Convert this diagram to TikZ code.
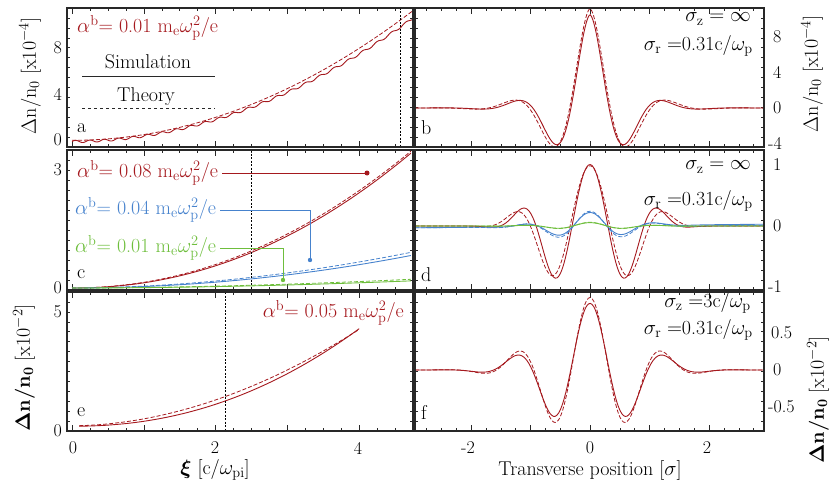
\documentclass[tikz,border=0pt]{standalone}
\usepackage{amsmath}
\definecolor{dred}{RGB}{165,25,30}
\definecolor{mblue}{RGB}{70,130,205}
\definecolor{mgreen}{RGB}{110,190,60}
\definecolor{frame}{RGB}{40,40,40}
\tikzset{
  fr/.style={draw=frame,line width=1.3pt},
  sim/.style={line width=0.9pt,smooth},
  theo/.style={line width=0.8pt,dashed,dash pattern=on 4pt off 2pt,smooth},
  vdot/.style={line width=0.9pt,dash pattern=on 2pt off 1.5pt},
  lbl/.style={font=\fontsize{20}{24}\selectfont,inner sep=1pt},
  tk/.style={font=\fontsize{18}{21}\selectfont,inner sep=1pt},
  tkk/.style={line width=0.5pt,draw=frame}
}
\begin{document}
\begin{tikzpicture}[x=1pt,y=-1pt]
\useasboundingbox (0,0) rectangle (830,495);
% ---------- ticks ----------
\foreach \yt/\yb in {8/147,150/290,292/431}{
  \foreach \i in {0,...,18}{
    \pgfmathsetmacro\xx{72+71.8*\i/4}
    \pgfmathsetmacro\ll{ifthenelse(mod(\i,4)==0,6,3)}
    \draw[tkk] (\xx,\yb) -- ++(0,-\ll);
    \draw[tkk] (\xx,\yt) -- ++(0,\ll);
  }
  \foreach \i in {-11,...,11}{
    \pgfmathsetmacro\xx{590+59.5*\i/4}
    \pgfmathsetmacro\ll{ifthenelse(mod(\i,4)==0,6,3)}
    \draw[tkk] (\xx,\yb) -- ++(0,-\ll);
    \draw[tkk] (\xx,\yt) -- ++(0,\ll);
  }
  \foreach \i in {0,...,13}{
    \pgfmathsetmacro\yy{\yt+\i*(\yb-\yt)/14}
    \draw[tkk] (67,\yy) -- ++(3,0);
    \draw[tkk] (413,\yy) -- ++(-3,0);
    \draw[tkk] (415,\yy) -- ++(3,0);
    \draw[tkk] (764,\yy) -- ++(-3,0);
  }
}
% ---------- panel a ----------
\draw[dred,theo,domain=0:4.75,samples=80] plot ({72+71.8*\x},{141.5-11.7*(0.1+10.4*(\x/4.6)^2)});
\draw[dred,sim,domain=0:4.75,samples=240] plot ({72+71.8*\x},{141.5-11.7*(9.9*(\x/4.6)^2+0.1*sin(\x*1800))});
\draw[vdot] (400,8) -- (400,147);
\node[lbl,dred,anchor=west] (ta) at (76,28) {$\alpha^{\mathrm{b}}$= 0.01 m$_{\mathrm{e}}\omega_{\mathrm{p}}^2$/e};
\node[lbl] (sim) at (148,62) {Simulation};
\coordinate (s1) at (82,76); \coordinate (s2) at (215,76);
\draw[line width=0.6pt,frame] (s1) -- (s2);
\node[lbl] (th) at (146,97) {Theory};
\coordinate (t1) at (82,108); \coordinate (t2) at (215,108);
\draw[line width=0.6pt,frame,dashed] (t1) -- (t2);
\node[lbl,anchor=west] (la) at (76,128) {a};
% ---------- panel c ----------
\draw[dred,theo,domain=0:4.72,samples=60] plot ({72+71.8*\x},{288-39.3*(3.45*(\x/4.7)^2.05)});
\draw[dred,sim,domain=0:4.72,samples=60] plot ({72+71.8*\x},{288-39.3*(3.4*(\x/4.7)^2.1)});
\draw[mblue,theo,domain=0:4.72,samples=40] plot ({72+71.8*\x},{288-39.3*(0.9*(\x/4.7)^1.9)});
\draw[mblue,sim,domain=0:4.72,samples=40] plot ({72+71.8*\x},{288-39.3*(0.82*(\x/4.7)^2)});
\draw[mgreen,theo,domain=0:4.72,samples=30] plot ({72+71.8*\x},{288-39.3*(0.22*(\x/4.7)^1.8)});
\draw[mgreen,sim,domain=0:4.72,samples=30] plot ({72+71.8*\x},{288-39.3*(0.18*(\x/4.7)^1.9)});
\draw[vdot] (251,150) -- (251,290);
\node[lbl,dred,anchor=west] (tc1) at (76,173) {$\alpha^{\mathrm{b}}$= 0.08 m$_{\mathrm{e}}\omega_{\mathrm{p}}^2$/e};
\node[lbl,mblue,anchor=west] (tc2) at (74,210) {$\alpha^{\mathrm{b}}$= 0.04 m$_{\mathrm{e}}\omega_{\mathrm{p}}^2$/e};
\node[lbl,mgreen,anchor=west] (tc3) at (74,248) {$\alpha^{\mathrm{b}}$= 0.01 m$_{\mathrm{e}}\omega_{\mathrm{p}}^2$/e};
\coordinate (d1) at (367,173);
\coordinate (d2) at (310,260);
\coordinate (d3) at (283,280);
\draw[dred,line width=0.6pt] (tc1.east) ++(3,0) -- (d1);
\fill[dred] (d1) circle (2.5);
\draw[mblue,line width=0.6pt] (tc2.east) ++(3,0) -| (d2);
\fill[mblue] (d2) circle (2.2);
\draw[mgreen,line width=0.6pt] (tc3.east) ++(3,0) -| (d3);
\fill[mgreen] (d3) circle (2.2);
\node[lbl,anchor=west] (lc) at (76,274) {c};
% ---------- panel e ----------
\draw[dred,theo,domain=0.1:4,samples=50] plot ({72+71.8*\x},{431-23.8*(0.22+4.05*(\x/4)^1.9)});
\draw[dred,sim,domain=0.1:4,samples=50] plot ({72+71.8*\x},{431-23.8*(0.2+4.1*(\x/4)^2.15)});
\draw[vdot] (225,292) -- (225,431);
\node[lbl,dred,anchor=east] (te) at (405,313) {$\alpha^{\mathrm{b}}$= 0.05 m$_{\mathrm{e}}\omega_{\mathrm{p}}^2$/e};
\node[lbl,anchor=west] (le) at (76,412) {e};
% ---------- panel b ----------
\draw[dred,theo,domain=-2.94:2.92,samples=200] plot ({590+59.5*\x},{108-8.8*(11.3*cos(4.6*\x r)*exp(-1.75*pow(abs(\x)+0.0001,1.38)))});
\draw[dred,sim,domain=-2.94:2.92,samples=200] plot ({590+59.5*\x},{108-8.8*(10.6*cos(4.9*\x r)*exp(-1.89*pow(abs(\x)+0.0001,1.38)))});
\node[lbl,anchor=east] (bz) at (752,19) {$\sigma_{\mathrm{z}}=\infty$};
\node[lbl,anchor=east] (br) at (754,46) {$\sigma_{\mathrm{r}}=$0.31c/$\omega_{\mathrm{p}}$};
\node[lbl,anchor=west] (lb) at (420,128) {b};
% ---------- panel d ----------
\draw[dred,theo,domain=-2.94:2.92,samples=200] plot ({590+59.5*\x},{226-61.5*(0.98*cos(4.7*\x r)*exp(-0.7*pow(abs(\x)+0.0001,3)))});
\draw[dred,sim,domain=-2.94:2.92,samples=200] plot ({590+59.5*\x},{226-61.5*(1.0*cos(5.2*\x r)*exp(-0.8*pow(abs(\x)+0.0001,3)))});
\draw[mblue,theo,domain=-2.94:2.92,samples=150] plot ({590+59.5*\x},{226-61.5*(0.25*cos(5.5*\x r)*exp(-1.3*\x*\x)+0.02*\x/3-0.01)});
\draw[mblue,sim,domain=-2.94:2.92,samples=150] plot ({590+59.5*\x},{226-61.5*(0.22*cos(5.5*\x r)*exp(-1.4*\x*\x)+0.03*\x/3)});
\draw[mgreen,theo,domain=-2.94:2.92,samples=100] plot ({590+59.5*\x},{226-61.5*(0.06*cos(5.5*\x r)*exp(-1.3*\x*\x))});
\draw[mgreen,sim,domain=-2.94:2.92,samples=100] plot ({590+59.5*\x},{226-61.5*(0.055*cos(5.5*\x r)*exp(-1.3*\x*\x))});
\node[lbl,anchor=east] (dz) at (752,167) {$\sigma_{\mathrm{z}}=\infty$};
\node[lbl,anchor=east] (dr) at (754,201) {$\sigma_{\mathrm{r}}=$0.31c/$\omega_{\mathrm{p}}$};
\node[lbl,anchor=west] (ld) at (420,275) {d};
% ---------- panel f ----------
\draw[dred,theo,domain=-2.94:2.92,samples=200] plot ({590+59.5*\x},{370-74*(0.98*cos(5.0*\x r)*exp(-0.9*pow(abs(\x)+0.0001,2.05)))});
\draw[dred,sim,domain=-2.94:2.92,samples=200] plot ({590+59.5*\x},{370-74*(0.9*cos(4.85*\x r)*exp(-0.95*pow(abs(\x)+0.0001,2.05)))});
\node[lbl,anchor=east] (fz) at (752,303) {$\sigma_{\mathrm{z}}=$3c/$\omega_{\mathrm{p}}$};
\node[lbl,anchor=east] (fr) at (754,330) {$\sigma_{\mathrm{r}}=$0.31c/$\omega_{\mathrm{p}}$};
\node[lbl,anchor=west] (lf) at (420,412) {f};
% ---------- frames ----------
\draw[fr] (67,8) rectangle (413,147);
\draw[fr] (67,150) rectangle (413,290);
\draw[fr] (67,292) rectangle (413,431);
\draw[fr] (415,8) rectangle (764,147);
\draw[fr] (415,150) rectangle (764,290);
\draw[fr] (415,292) rectangle (764,431);
% ---------- tick labels ----------
\node[tk,anchor=east] at (63,48) {8};
\node[tk,anchor=east] at (63,94) {4};
\node[tk,anchor=east] at (63,140) {0};
\node[tk,anchor=east] at (63,170) {3};
\node[tk,anchor=east] at (63,288) {0};
\node[tk,anchor=east] at (63,312) {5};
\node[tk,anchor=east] at (63,431) {0};
\node[tk,anchor=west] at (772,37) {8};
\node[tk,anchor=west] at (772,72) {4};
\node[tk,anchor=west] at (772,108) {0};
\node[tk,anchor=west] at (767,143) {-4};
\node[tk,anchor=west] at (772,165) {1};
\node[tk,anchor=west] at (772,226) {0};
\node[tk,anchor=west] at (767,287) {-1};
\node[tk,anchor=west] at (770,333) {0.5};
\node[tk,anchor=west] at (767,407) {-0.5};
\node[tk,anchor=west] at (772,370) {0};
\node[tk] at (73,448) {0};
\node[tk] at (215,448) {2};
\node[tk] at (358,448) {4};
\node[tk] at (468,448) {-2};
\node[tk] at (590,448) {0};
\node[tk] at (707,448) {2};
% ---------- axis titles ----------
\node[lbl,rotate=90] (ya) at (30,76) {$\Delta$n/n$_0$ [x10$^{-4}$]};
\node[lbl,rotate=90] (ye) at (24,368) {$\boldsymbol{\Delta}$\textbf{n/n}$_{\mathbf 0}$ [x10$^{-2}$]};
\node[lbl,rotate=90] (yb) at (812,74) {$\Delta$n/n$_0$ [x10$^{-4}$]};
\node[lbl,rotate=90] (yf) at (818,400) {$\boldsymbol{\Delta}$\textbf{n/n}$_{\mathbf 0}$ [x10$^{-2}$]};
\node[lbl] (xl) at (215,470) {$\boldsymbol{\xi}$ [c/$\omega_{\mathrm{pi}}$]};
\node[lbl] (xr) at (590,470) {Transverse position [$\sigma$]};
\end{tikzpicture}
\end{document}
